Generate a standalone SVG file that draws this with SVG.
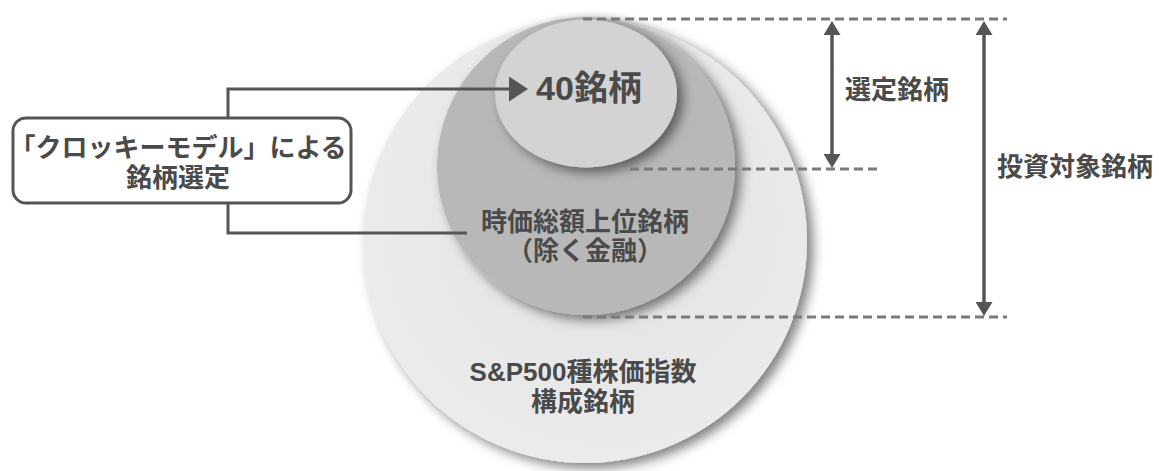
<svg xmlns="http://www.w3.org/2000/svg" width="1159" height="471" viewBox="0 0 1159 471">
  <style>
    .t { font-family: "Liberation Sans", "Noto Sans CJK JP", sans-serif; font-weight: bold; fill: #4a4a4a; font-size: 26px; }
    .c { text-anchor: middle; }
    .line { fill: none; stroke: #555; stroke-width: 3; }
    .dash { fill: none; stroke: #7a7a7a; stroke-width: 3; stroke-dasharray: 9 5; }
    .dim { fill: none; stroke: #555; stroke-width: 3.5; }
  </style>
  <defs>
    <filter id="shadow" x="-20%" y="-20%" width="145%" height="145%">
      <feDropShadow dx="6" dy="5" stdDeviation="6" flood-color="#000" flood-opacity="0.5"/>
    </filter>
    <radialGradient id="outerFill" cx="0.55" cy="0.45" r="0.6">
      <stop offset="0" stop-color="#e2e2e2"/>
      <stop offset="1" stop-color="#ececec"/>
    </radialGradient>
    <marker id="bigHead" markerUnits="userSpaceOnUse" markerWidth="19" markerHeight="25" refX="0" refY="12.5" orient="auto">
      <path d="M0,0 L19,12.5 L0,25 z" fill="#555"/>
    </marker>
    <marker id="dimHead" markerUnits="userSpaceOnUse" markerWidth="17" markerHeight="17" refX="0" refY="8.5" orient="auto-start-reverse">
      <path d="M0,0 L14,8.5 L0,17 z" fill="#555"/>
    </marker>
  </defs>

  <g id="outer">
    <circle cx="585" cy="241" r="222" fill="url(#outerFill)" filter="url(#shadow)"/>
    <text class="t c" x="583" y="381">S&amp;P500種株価指数</text>
    <text class="t c" x="583" y="411">構成銘柄</text>
  </g>

  <g id="middle">
    <circle cx="586" cy="166" r="149" fill="#b8b8b8" filter="url(#shadow)"/>
    <text class="t c" x="585" y="231">時価総額上位銘柄</text>
    <text class="t c" x="585" y="260">（除く金融）</text>
  </g>

  <g id="inner">
    <ellipse cx="586" cy="93.5" rx="91" ry="74" fill="#d3d3d3" filter="url(#shadow)"/>
    <text class="t c" x="589" y="100" style="font-size:34px">40銘柄</text>
  </g>

  <g id="box">
    <rect x="13" y="118" width="338" height="85" rx="13" ry="13" fill="#fff" stroke="#555" stroke-width="3"/>
    <text class="t c" x="178" y="157">「クロッキーモデル」による</text>
    <text class="t c" x="178" y="187">銘柄選定</text>
  </g>

  <g id="label-selected">
    <text class="t" x="845" y="99">選定銘柄</text>
  </g>

  <g id="label-investment">
    <text class="t" x="997" y="176">投資対象銘柄</text>
  </g>

  <g id="connectors">
    <path class="line" d="M228,118 V89 H509" marker-end="url(#bigHead)"/>
    <path class="line" d="M228,203 V233 H467"/>
    <line class="dash" x1="583" y1="19" x2="1007" y2="19"/>
    <line class="dash" x1="630" y1="169" x2="880" y2="169"/>
    <line class="dash" x1="583" y1="317" x2="1007" y2="317"/>
    <line class="dim" x1="832" y1="35" x2="832" y2="154" marker-start="url(#dimHead)" marker-end="url(#dimHead)"/>
    <line class="dim" x1="984" y1="35" x2="984" y2="302" marker-start="url(#dimHead)" marker-end="url(#dimHead)"/>
  </g>
</svg>
